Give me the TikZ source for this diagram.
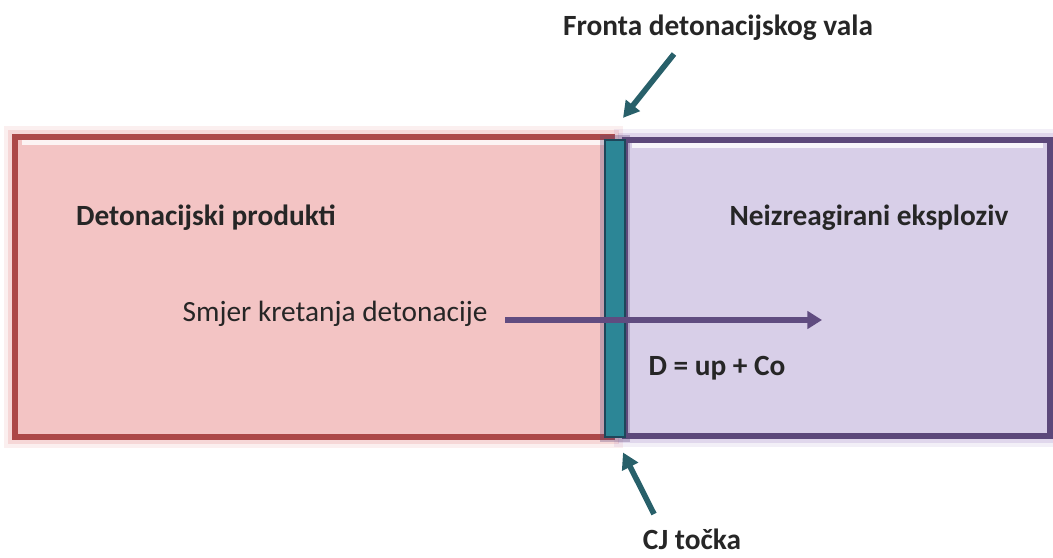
\documentclass[tikz,border=0pt]{standalone}
\usepackage{fontspec}
\setmainfont{Carlito}
\usepackage{tikz}
\usetikzlibrary{positioning, arrows.meta, calc}
\definecolor{ProdFill}{RGB}{243,196,196}
\definecolor{ProdLine}{RGB}{172,72,72}
\definecolor{ProdGlow}{RGB}{226,120,120}
\definecolor{ExplFill}{RGB}{216,207,232}
\definecolor{ExplLine}{RGB}{92,72,122}
\definecolor{ExplGlow}{RGB}{150,120,190}
\definecolor{FrontTeal}{RGB}{44,134,150}
\definecolor{FrontDark}{RGB}{30,70,90}
\definecolor{PointerTeal}{RGB}{40,96,106}
\definecolor{DirPurple}{RGB}{96,76,128}

\begin{document}
\begin{tikzpicture}[
  x=0.75pt, y=-0.75pt,
  zone/.style={rectangle, inner sep=0pt, line width=4pt},
  prodbox/.style={zone, draw=ProdLine, fill=ProdFill,
    preaction={draw=ProdGlow, line width=16pt, opacity=0.12},
    preaction={draw=ProdGlow, line width=10pt, opacity=0.2},
    path picture={\draw[white, line width=4pt, opacity=0.8]
      ([xshift=5pt,yshift=-4pt]path picture bounding box.north west) -- ([xshift=-5pt,yshift=-4pt]path picture bounding box.north east);}},
  explbox/.style={zone, draw=ExplLine, fill=ExplFill,
    preaction={draw=ExplGlow, line width=16pt, opacity=0.12},
    preaction={draw=ExplGlow, line width=10pt, opacity=0.2},
    path picture={\draw[white, line width=4pt, opacity=0.8]
      ([xshift=5pt,yshift=-4pt]path picture bounding box.north west) -- ([xshift=-5pt,yshift=-4pt]path picture bounding box.north east);}},
  frontbar/.style={rectangle, inner sep=0pt, fill=FrontTeal, draw=FrontDark, line width=1.2pt,
    preaction={draw=ExplLine, line width=8pt, opacity=0.3}},
  title/.style={font=\fontsize{22}{26}\selectfont\bfseries, text=black!85},
  plain/.style={font=\fontsize{22}{26}\selectfont, text=black!85},
  pointer/.style={-{Triangle[length=12pt, width=13pt]}, line width=4.2pt, PointerTeal},
  dirarrow/.style={-{Triangle[length=11pt, width=13pt]}, line width=3.8pt, DirPurple}
]
\useasboundingbox (0,0) rectangle (1053,557);

% Zones either side of the front
\node[prodbox, minimum width=447.75pt, minimum height=225pt] (products) at (313.5,287) {};
\node[explbox, minimum width=318.75pt, minimum height=222pt] (explosive) at (837.5,288) {};
\node[frontbar, minimum width=15pt, minimum height=222.75pt] (front) at (615,288.5) {};

% Zone labels
\node[title] (prodlabel) at (206,218) {Detonacijski produkti};
\node[title] (expllabel) at (869,218) {Neizreagirani eksploziv};

% Direction of detonation
\node[plain] (dirlabel) at (335,314) {Smjer kretanja detonacije};
\coordinate (dirstart) at (505,320);
\coordinate (dirend) at (822,320);
\draw[dirarrow] (dirstart) -- (dirend);
\node[title] (speed) at (717,368) {D = up + Co};

% Pointers
\node[title] (frontlabel) at (718,28) {Fronta detonacijskog vala};
\coordinate (fronttail) at (674,54);
\draw[pointer] (fronttail) -- ([xshift=6pt,yshift=16pt]front.north);
\node[title] (cjlabel) at (692,539) {CJ točka};
\coordinate (cjtail) at (654,514);
\draw[pointer] (cjtail) -- ([xshift=6pt,yshift=-11pt]front.south);

\end{tikzpicture}
\end{document}
